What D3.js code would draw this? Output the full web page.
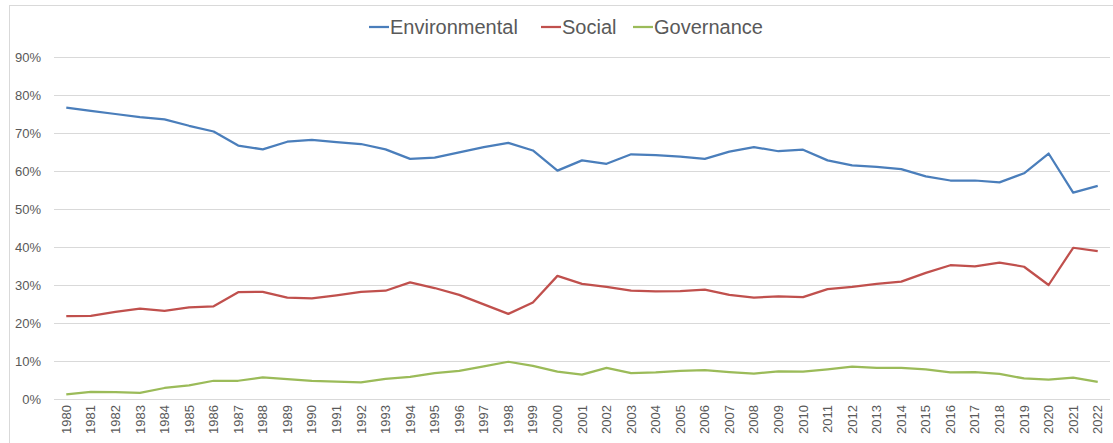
<!DOCTYPE html>
<html>
<head>
<meta charset="utf-8">
<script src="https://cdn.jsdelivr.net/npm/d3@7"></script>
<style>
html,body{margin:0;padding:0;background:#fff;}
svg{display:block;font-family:"Liberation Sans","DejaVu Sans",sans-serif;}
</style>
</head>
<body>
<svg id="chart" width="1113" height="443"></svg>
<script>
const years = d3.range(1980, 2023).map(String);
const environmental = [76.7,75.8,75.0,74.2,73.6,71.9,70.4,66.7,65.7,67.7,68.2,67.6,67.1,65.7,63.2,63.5,64.9,66.3,67.4,65.4,60.1,62.8,61.9,64.4,64.2,63.8,63.2,65.1,66.3,65.2,65.6,62.8,61.5,61.1,60.5,58.6,57.5,57.5,57.0,59.4,64.6,54.3,56.1];
const social = [21.8,21.9,22.9,23.8,23.2,24.1,24.4,28.1,28.2,26.7,26.5,27.3,28.2,28.5,30.7,29.2,27.4,24.9,22.4,25.4,32.4,30.3,29.5,28.5,28.3,28.4,28.8,27.4,26.7,27.0,26.8,28.9,29.5,30.3,30.9,33.2,35.2,34.9,35.9,34.8,30.0,39.8,38.9];
const governance = [1.2,1.9,1.8,1.6,2.9,3.6,4.8,4.8,5.7,5.2,4.8,4.6,4.4,5.3,5.8,6.8,7.4,8.6,9.8,8.7,7.2,6.4,8.2,6.8,7.0,7.4,7.6,7.1,6.7,7.3,7.2,7.8,8.5,8.2,8.2,7.8,7.0,7.1,6.6,5.4,5.1,5.6,4.5];
const yTicks = [0,10,20,30,40,50,60,70,80,90];
const seriesNames = ["Environmental","Social","Governance"];
const seriesColors = ["#4a7ebb","#c0504d","#9bbb59"];

const series = [environmental, social, governance].map((v,i)=>({name:seriesNames[i], color:seriesColors[i], values:v}));

const svg = d3.select("#chart");
const W = 1113, H = 443;
const m = {left:54, right:3, top:57, bottom:44};

// outer frame
svg.append("rect").attr("x",9.5).attr("y",5.5).attr("width",W).attr("height",H)
  .attr("fill","none").attr("stroke","#d9d9d9").attr("stroke-width",1);

const x = d3.scaleBand().domain(years).range([m.left, 1110]);
const y = d3.scaleLinear().domain([0,90]).range([399, 57]);

// gridlines
svg.append("g").selectAll("line").data(yTicks).join("line")
  .attr("x1", m.left).attr("x2", 1110)
  .attr("y1", d=>Math.round(y(d))+0.5).attr("y2", d=>Math.round(y(d))+0.5)
  .attr("stroke","#d9d9d9").attr("stroke-width",1);

// y axis labels
const yAxis = d3.axisLeft(y).tickValues(yTicks).tickFormat(d=>d+"%").tickSize(0).tickPadding(0);
const gy = svg.append("g").attr("transform","translate(41,0)").call(yAxis);
gy.select(".domain").remove();
gy.selectAll("text").attr("fill","#595959").style("font-size","13px").style("font-family","Liberation Sans, sans-serif");

// x axis labels
const xAxis = d3.axisBottom(x).tickSize(0).tickPadding(0);
const gx = svg.append("g").attr("transform","translate(0,403)").call(xAxis);
gx.select(".domain").remove();
gx.selectAll("text")
  .attr("fill","#595959").style("font-size","13px")
  .attr("transform","rotate(-90)")
  .attr("text-anchor","end")
  .attr("dy","0.35em")
  .attr("x",-2).attr("y",0);

// lines
const line = d3.line().x((d,i)=>x(years[i])+x.bandwidth()/2).y(d=>y(d));
svg.append("g").selectAll("path").data(series).join("path")
  .attr("d", d=>line(d.values))
  .attr("fill","none").attr("stroke", d=>d.color).attr("stroke-width",2.25)
  .attr("stroke-linejoin","round");

// legend
const legendItems = [{x:369},{x:541},{x:633}];
const lg = svg.append("g");
series.forEach((s,i)=>{
  const lx = legendItems[i].x;
  lg.append("line").attr("x1",lx).attr("x2",lx+20).attr("y1",27).attr("y2",27)
    .attr("stroke",s.color).attr("stroke-width",2.25);
  lg.append("text").attr("x",lx+21).attr("y",27).attr("dy","0.35em")
    .attr("fill","#595959").style("font-size","20px").text(s.name);
});
</script>
</body>
</html>
